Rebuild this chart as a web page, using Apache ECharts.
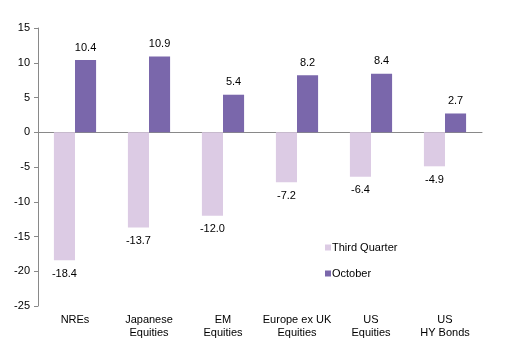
<!DOCTYPE html>
<html><head><meta charset="utf-8">
<script src="https://cdn.jsdelivr.net/npm/echarts@6/dist/echarts.min.js"></script>
<style>html,body{margin:0;padding:0;background:#fff}#c{width:505px;height:358px}</style>
</head><body><div id="c"></div>
<script>
var categories = ['NREs', 'Japanese\nEquities', 'EM\nEquities', 'Europe ex UK\nEquities', 'US\nEquities', 'US\nHY Bonds'];
var thirdQuarter = [-18.4, -13.7, -12.0, -7.2, -6.4, -4.9];
var october = [10.4, 10.9, 5.4, 8.2, 8.4, 2.7];
var yTicks = [-25, 15, 5];

var chart = echarts.init(document.getElementById('c'), null, {renderer: 'canvas'});
var font = 'Liberation Sans, Arial, sans-serif';
chart.setOption({
  animation: false,
  textStyle: {fontFamily: font},
  grid: {left: 38, right: 23, top: 28, bottom: 52, containLabel: false},
  legend: {
    orient: 'vertical', left: 320, top: 237, itemWidth: 6, itemHeight: 6, itemGap: 15,
    textStyle: {fontSize: 11, color: '#000', fontFamily: font, padding: [0, 0, 0, -4]},
    data: ['Third Quarter', 'October'], icon: 'rect'
  },
  xAxis: [{
    type: 'category', data: categories,
    axisLine: {onZero: true, lineStyle: {color: '#898989', width: 1}},
    axisTick: {show: false}, axisLabel: {show: false}
  }, {
    type: 'category', data: categories, position: 'bottom',
    axisLine: {show: false}, axisTick: {show: false},
    axisLabel: {fontSize: 11, color: '#000', fontFamily: font, margin: 7, lineHeight: 13, interval: 0}
  }],
  yAxis: {
    type: 'value', min: yTicks[0], max: yTicks[1], interval: yTicks[2],
    splitLine: {show: false},
    axisLine: {show: true, lineStyle: {color: '#898989'}},
    axisTick: {show: true, length: 4, lineStyle: {color: '#898989'}},
    axisLabel: {fontSize: 11, color: '#000', fontFamily: font, margin: 8}
  },
  series: [{
    name: 'Third Quarter', type: 'bar', data: thirdQuarter, barGap: '0%', barCategoryGap: '43%',
    itemStyle: {color: '#dccbe4'},
    label: {show: true, position: 'bottom', distance: 8, fontSize: 11, color: '#000', fontFamily: font,
      formatter: function (p) { return p.value.toFixed(1); }}
  }, {
    name: 'October', type: 'bar', data: october, barGap: '0%', barCategoryGap: '43%',
    itemStyle: {color: '#7a67ab'},
    label: {show: true, position: 'top', distance: 7, fontSize: 11, color: '#000', fontFamily: font,
      formatter: function (p) { return p.value.toFixed(1); }}
  }]
});
</script></body></html>
